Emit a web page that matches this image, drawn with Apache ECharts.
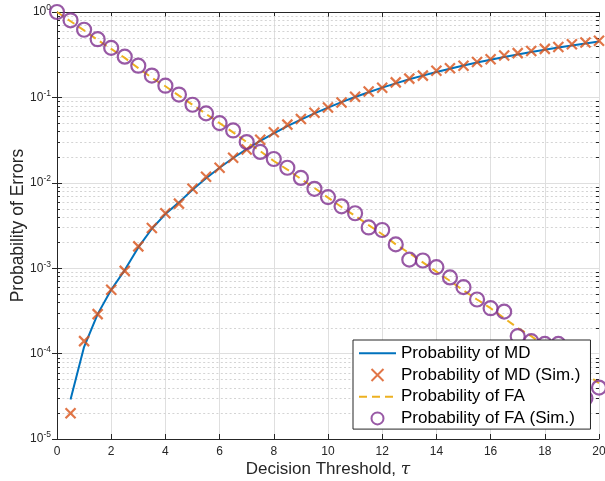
<!DOCTYPE html>
<html>
<head>
<meta charset="utf-8">
<script src="https://cdn.jsdelivr.net/npm/echarts@6/dist/echarts.min.js"></script>
<style>html,body{margin:0;padding:0;background:#fff;}#c{width:605px;height:481px;}</style>
</head>
<body>
<div id="c"></div>
<script>
// x positions (threshold tau)
const tauLine = [0.5,1,1.5,2,2.5,3,3.5,4,4.5,5,5.5,6,6.5,7,7.5,8,8.5,9,9.5,10,10.5,11,11.5,12,12.5,13,13.5,14,14.5,15,15.5,16,16.5,17,17.5,18,18.5,19,19.5,20];
const tauAll = [0,0.5,1,1.5,2,2.5,3,3.5,4,4.5,5,5.5,6,6.5,7,7.5,8,8.5,9,9.5,10,10.5,11,11.5,12,12.5,13,13.5,14,14.5,15,15.5,16,16.5,17,17.5,18,18.5,19,19.5,20];
// Probability of MD (analytical), at tauLine
const mdLine = [2.9e-5,1.2e-4,2.9e-4,5.6e-4,9.5e-4,1.75e-3,2.9e-3,4.3e-3,5.9e-3,8.3e-3,0.0113,0.0150,0.0195,0.0248,0.031,0.038,0.046,0.055,0.065,0.076,0.088,0.101,0.115,0.130,0.146,0.163,0.180,0.198,0.217,0.236,0.256,0.276,0.297,0.318,0.340,0.362,0.384,0.406,0.428,0.450];
// Probability of MD (Sim.), at tauLine
const mdSim = [2.0e-5,1.4e-4,2.9e-4,5.6e-4,9.3e-4,1.8e-3,2.95e-3,4.4e-3,5.7e-3,8.5e-3,0.0118,0.015,0.0196,0.0245,0.032,0.039,0.048,0.056,0.066,0.076,0.087,0.102,0.117,0.130,0.150,0.166,0.180,0.205,0.220,0.235,0.260,0.280,0.310,0.330,0.350,0.370,0.390,0.420,0.440,0.460];
// Probability of FA (analytical), at tauAll
const faLine = [1,0.78,0.61,0.47,0.37,0.29,0.22,0.17,0.135,0.105,0.082,0.064,0.050,0.039,0.030,0.0235,0.018,0.0143,0.0111,0.0087,0.0067,0.0052,0.0041,0.0032,0.0025,0.0019,0.0015,0.00117,0.00091,0.00071,0.00055,0.00043,0.00034,0.00026,0.0002,0.00016,0.000123,0.000096,0.000075,0.000058,0.000045];
// Probability of FA (Sim.), at tauAll
const faSim = [1.0,0.80,0.62,0.48,0.38,0.30,0.235,0.18,0.137,0.108,0.082,0.065,0.050,0.041,0.030,0.023,0.019,0.015,0.0114,0.0085,0.0068,0.0053,0.0044,0.0030,0.0028,0.0019,0.00126,0.00123,0.00103,0.00078,0.00060,0.00043,0.00034,0.00031,0.00016,0.00014,0.00013,0.00013,0.00008,0.00003,0.00004];
const seriesNames = ['Probability of MD','Probability of MD (Sim.)','Probability of FA','Probability of FA (Sim.)'];

const minorVals = [];
for (let e = -5; e < 0; e++) for (let m = 2; m <= 9; m++) minorVals.push(m * Math.pow(10, e));

const zip = (xs, ys) => xs.map((x, i) => [x, ys[i]]);
const FONT = '"Liberation Sans", Arial, Helvetica, sans-serif';
const AX = '#262626';

const chart = echarts.init(document.getElementById('c'), null, {renderer: 'canvas'});
chart.setOption({
  animation: false,
  backgroundColor: '#fff',
  textStyle: {fontFamily: FONT},
  grid: {left: 57, right: 6, top: 12, bottom: 42, containLabel: false, outerBoundsMode: 'none'},
  xAxis: [{
    type: 'value', min: 0, max: 20, interval: 2, position: 'bottom',
    name: 'Decision Threshold, {i|τ}', nameLocation: 'middle', nameGap: 22, nameMoveOverlap: false,
    nameTextStyle: {fontSize: 17, color: AX, fontFamily: FONT,
      rich: {i: {fontSize: 17, fontStyle: 'italic', fontFamily: '"DejaVu Serif", serif', color: AX}}},
    axisLine: {show: true, lineStyle: {color: AX, width: 1}},
    axisTick: {show: true, inside: true, length: 5, lineStyle: {color: AX}},
    axisLabel: {fontSize: 12, color: AX, margin: 7, fontFamily: FONT},
    splitLine: {show: true, lineStyle: {color: '#dfdfdf', width: 1}}
  }, {
    type: 'value', min: 0, max: 20, interval: 2, position: 'top',
    axisLine: {show: true, onZero: false, lineStyle: {color: AX, width: 1}},
    axisTick: {show: true, inside: true, length: 5, lineStyle: {color: AX}},
    axisLabel: {show: false}, splitLine: {show: false}
  }],
  yAxis: [{
    type: 'log', logBase: 10, min: 1e-5, max: 1, splitNumber: 5, position: 'left',
    name: 'Probability of Errors', nameLocation: 'middle', nameGap: 30, nameMoveOverlap: false,
    nameTextStyle: {fontSize: 17.5, color: AX, fontFamily: FONT},
    axisLine: {show: true, lineStyle: {color: AX, width: 1}},
    axisTick: {show: true, inside: true, length: 5, lineStyle: {color: AX}},
    axisLabel: {
      margin: 6, color: AX,
      formatter: function (v) {
        const e = Math.round(Math.log10(v));
        return '{b|10}{s|' + e + '}';
      },
      rich: {
        b: {fontSize: 12, color: AX, fontFamily: FONT},
        s: {fontSize: 8.5, color: AX, fontFamily: FONT, padding: [0, 0, 8, 0]}
      }
    },
    splitLine: {show: true, lineStyle: {color: '#dfdfdf', width: 1}}
  }, {
    type: 'log', logBase: 10, min: 1e-5, max: 1, splitNumber: 5, position: 'right',
    axisLine: {show: true, lineStyle: {color: AX, width: 1}},
    axisTick: {show: true, inside: true, length: 5, lineStyle: {color: AX}},
    axisLabel: {show: false}, splitLine: {show: false}
  }],
  legend: {
    data: [
      {name: seriesNames[0], itemStyle: {opacity: 0}},
      {name: seriesNames[1]},
      {name: seriesNames[2], itemStyle: {opacity: 0}},
      {name: seriesNames[3]}
    ],
    orient: 'vertical', left: 353, top: 340, z: 20,
    backgroundColor: '#fff', borderColor: AX, borderWidth: 1, borderRadius: 0,
    padding: [4.3, 10, 1.7, 5],
    itemWidth: 37, itemHeight: 12, itemGap: 3.7,
    textStyle: {fontSize: 17, lineHeight: 18, color: '#000', fontFamily: FONT},
    selectedMode: false
  },
  series: [
    {
      type: 'custom', name: 'minorgrid', silent: true, z: 1,
      xAxisIndex: 0, yAxisIndex: 0,
      data: minorVals.map(v => [0, v]),
      renderItem: function (params, api) {
        const v = api.value(1);
        const a = api.coord([0, v]);
        const b = api.coord([20, v]);
        const y = Math.round(a[1]) + 0.5;
        return {type: 'group', children: [
          {type: 'line', shape: {x1: a[0] + 1, y1: y, x2: b[0] - 1, y2: y}, style: {stroke: '#d4d4d4', lineWidth: 1, lineDash: [2, 2.4]}},
          {type: 'line', shape: {x1: a[0], y1: y, x2: a[0] + 3, y2: y}, style: {stroke: AX, lineWidth: 1}},
          {type: 'line', shape: {x1: b[0] - 3, y1: y, x2: b[0], y2: y}, style: {stroke: AX, lineWidth: 1}}
        ]};
      }
    },
    {
      name: seriesNames[0], type: 'line', data: zip(tauLine, mdLine),
      symbol: 'none', smooth: false, clip: true, z: 3,
      lineStyle: {color: '#0072BD', width: 2}, itemStyle: {color: '#0072BD'}
    },
    {
      name: seriesNames[1], type: 'scatter', data: zip(tauLine, mdSim),
      symbol: 'path://M0,0L10,10M10,0L0,10', symbolSize: 10, clip: false, z: 4,
      itemStyle: {color: '#D95319', borderColor: '#D95319', borderWidth: 2.2}
    },
    {
      name: seriesNames[2], type: 'line', data: zip(tauAll, faLine),
      symbol: 'none', clip: true, z: 5,
      lineStyle: {color: '#EDB120', width: 2, type: [8, 5]}, itemStyle: {color: '#EDB120'}
    },
    {
      name: seriesNames[3], type: 'scatter', data: zip(tauAll, faSim),
      symbol: 'circle', symbolSize: 14, clip: false, z: 6,
      itemStyle: {color: 'rgba(0,0,0,0)', borderColor: '#7E2F8E', borderWidth: 2.2}
    }
  ]
});
</script>
</body>
</html>
